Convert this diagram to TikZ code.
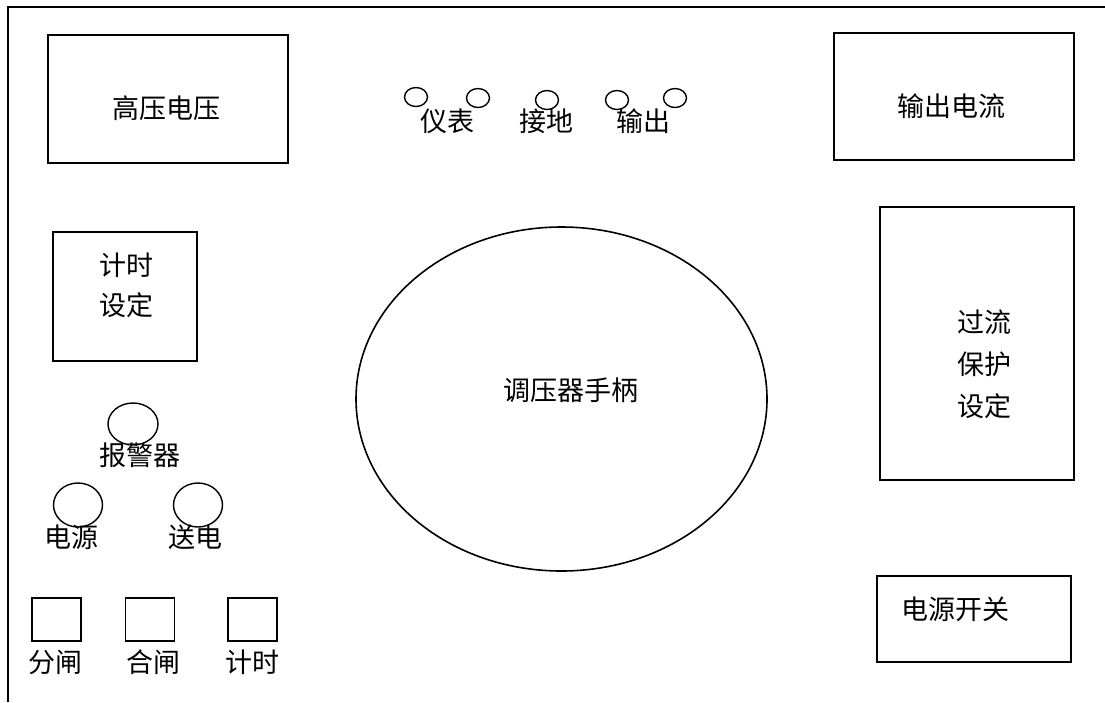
\documentclass[tikz,border=0pt]{standalone}
\usepackage{fontspec}
\usepackage{tikz}
\usetikzlibrary{shapes.geometric, positioning}
\newfontfamily\cjk{Noto Sans CJK SC}
\tikzset{panel/.style={rectangle,draw=black,line width=1.6pt,inner sep=0pt},
  lamp/.style={ellipse,draw=black,line width=1.4pt,inner sep=0pt},
  lbl/.style={inner sep=0pt,font=\cjk\fontsize{27}{40}\selectfont,align=center}}

\begin{document}
\begin{tikzpicture}[x=1pt,y=-1pt]
  \useasboundingbox (0,0) rectangle (1105,702);
  \coordinate (topleft) at (8,7);
  \coordinate (botleft) at (8,702);
  \coordinate (topright) at (1105,7);
  \draw[line width=1.6pt] (botleft) -- (topleft) -- (topright);

  % meters and setting panels
  \node[panel,minimum width=240pt,minimum height=128pt] (hv) at (168,99) {};
  \node[lbl] (hvtext) at (166.5,108) {高压电压};
  \node[panel,minimum width=240pt,minimum height=127pt] (iout) at (954,96.5) {};
  \node[lbl] (iouttext) at (951,106) {输出电流};
  \node[panel,minimum width=144pt,minimum height=129pt] (timer) at (125,296.5) {};
  \node[lbl] (timertext) at (126,285) {计时\\设定};
  \node[panel,minimum width=194pt,minimum height=273pt] (ocp) at (977,343.5) {};
  \node[lbl,font=\cjk\fontsize{27}{42}\selectfont] (ocptext) at (984.5,364) {过流\\保护\\设定};
  \node[panel,minimum width=194pt,minimum height=86pt] (mains) at (974,619) {};
  \node[lbl] (mainstext) at (955,609) {电源开关};

  % regulator handle
  \node[lamp,line width=1.6pt,minimum width=411pt,minimum height=344pt] (handle) at (561.5,399) {};
  \node[lbl] (handletext) at (571,390) {调压器手柄};

  % terminals on top
  \foreach \x/\y [count=\i] in {416/97,478/98,547/100,617/100,675/98}
    \node[lamp,minimum width=23pt,minimum height=19pt] (term\i) at (\x,\y) {};
  \node[lbl] (meter) at (447,121) {仪表};
  \node[lbl] (ground) at (546,121) {接地};
  \node[lbl] (output) at (643,121) {输出};

  % indicator lamps
  \node[lamp,minimum width=50pt,minimum height=42pt] (alarm) at (133,424) {};
  \node[lamp,minimum width=49pt,minimum height=44pt] (power) at (78,505) {};
  \node[lamp,minimum width=49pt,minimum height=44pt] (feed) at (198,505) {};
  \node[lbl] (alarmtext) at (140,455) {报警器};
  \node[lbl] (powertext) at (71,537) {电源};
  \node[lbl] (feedtext) at (195,537) {送电};

  % push buttons
  \foreach \x/\name/\txt/\tx in {56.5/off/分闸/55.5,150/on/合闸/153,252.5/clock/计时/252}{
    \node[panel,line width=1.4pt,minimum width=49pt,minimum height=43pt] (\name) at (\x,619.5) {};
    \node[lbl] (\name text) at (\tx,662) {\txt};
  }
\end{tikzpicture}
\end{document}
